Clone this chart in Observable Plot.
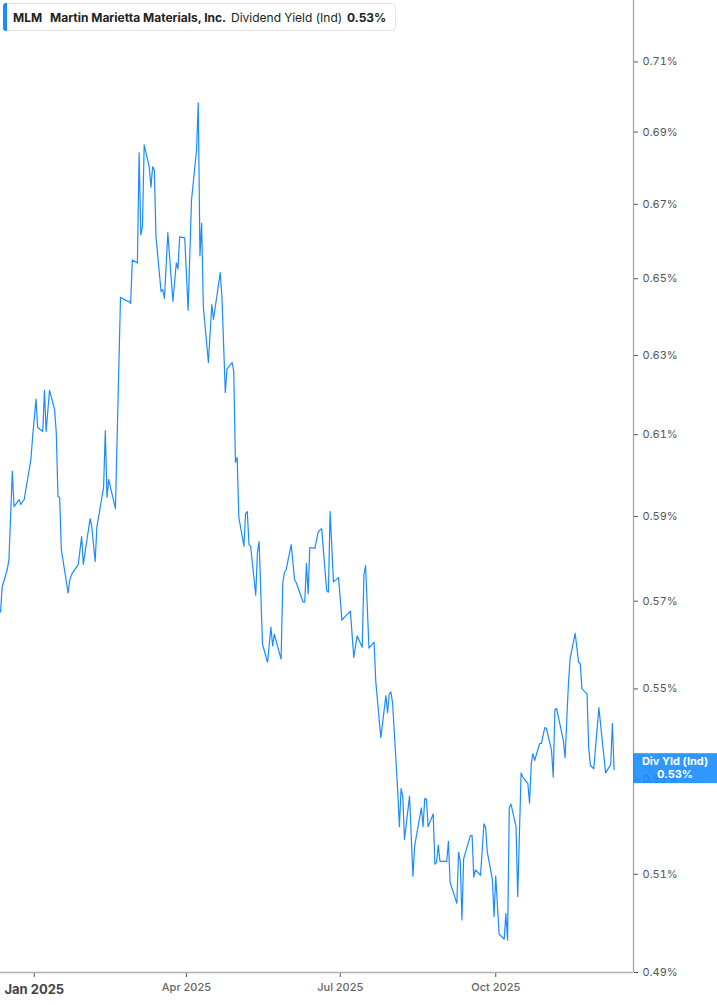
<!DOCTYPE html>
<html><head><meta charset="utf-8">
<script src="https://cdn.jsdelivr.net/npm/d3@7"></script>
<script src="https://cdn.jsdelivr.net/npm/@observablehq/plot@0.6"></script>
<style>
html,body{margin:0;padding:0;background:#fff;}
body{font-family:Inter,"Noto Sans",sans-serif;}
#wrap{position:relative;width:717px;height:1005px;overflow:hidden;}
#hdr{position:absolute;left:3px;top:3px;width:393px;height:28px;box-sizing:border-box;border:1px solid #e4e4e4;border-radius:4px;background:#fff;font-size:12px;color:#222;}
#hdr .bar{position:absolute;left:-1px;top:-1px;bottom:-1px;width:4px;background:#1a8cff;border-radius:3px 0 0 3px;}
#hdr span{position:absolute;top:6px;white-space:nowrap;}
#hdr .b{font-weight:700;}
</style>
</head><body>
<div id="wrap">
  <div id="chart"></div>
  <div id="hdr"><div class="bar"></div>
    <span class="b" style="left:9px">MLM</span>
    <span class="b" style="left:46px">Martin Marietta Materials, Inc.</span>
    <span style="left:227px">Dividend Yield (Ind)</span>
    <span class="b" style="left:343px">0.53%</span>
  </div>
</div>
<script>
const dates = [
"2024-12-12","2024-12-13","2024-12-16","2024-12-17","2024-12-19","2024-12-20","2024-12-23","2024-12-24","2024-12-26","2024-12-30",
"2024-12-31","2025-01-02","2025-01-03","2025-01-06","2025-01-07","2025-01-08","2025-01-10","2025-01-13","2025-01-14","2025-01-15",
"2025-01-16","2025-01-17","2025-01-21","2025-01-22","2025-01-23","2025-01-27","2025-01-29","2025-01-30","2025-02-03","2025-02-04",
"2025-02-06","2025-02-07","2025-02-11","2025-02-12","2025-02-13","2025-02-14","2025-02-18","2025-02-21","2025-02-24","2025-02-26",
"2025-02-27","2025-02-28","2025-03-03","2025-03-04","2025-03-05","2025-03-06","2025-03-07","2025-03-10","2025-03-11","2025-03-12",
"2025-03-13","2025-03-14","2025-03-17","2025-03-18","2025-03-19","2025-03-21","2025-03-24","2025-03-26","2025-03-27","2025-03-28",
"2025-03-31","2025-04-02","2025-04-04","2025-04-07","2025-04-08","2025-04-09","2025-04-10","2025-04-11","2025-04-14","2025-04-16",
"2025-04-17","2025-04-21","2025-04-22","2025-04-24","2025-04-25","2025-04-28","2025-04-29","2025-04-30","2025-05-01","2025-05-02",
"2025-05-05","2025-05-06","2025-05-07","2025-05-08","2025-05-09","2025-05-12","2025-05-13","2025-05-14","2025-05-16","2025-05-19",
"2025-05-21","2025-05-22","2025-05-23","2025-05-27","2025-05-28","2025-05-29","2025-05-30","2025-06-02","2025-06-04","2025-06-05",
"2025-06-09","2025-06-10","2025-06-11","2025-06-12","2025-06-13","2025-06-16","2025-06-18","2025-06-20","2025-06-23","2025-06-24",
"2025-06-25","2025-06-27","2025-06-30","2025-07-02","2025-07-03","2025-07-07","2025-07-09","2025-07-11","2025-07-14","2025-07-15",
"2025-07-16","2025-07-18","2025-07-21","2025-07-22","2025-07-25","2025-07-28","2025-07-29","2025-07-30","2025-07-31","2025-08-01",
"2025-08-04","2025-08-05","2025-08-06","2025-08-07","2025-08-08","2025-08-11","2025-08-13","2025-08-14","2025-08-18","2025-08-19",
"2025-08-20","2025-08-21","2025-08-22","2025-08-25","2025-08-26","2025-08-27","2025-08-28","2025-08-29","2025-09-02","2025-09-03",
"2025-09-04","2025-09-08","2025-09-09","2025-09-10","2025-09-11","2025-09-12","2025-09-16","2025-09-17","2025-09-18","2025-09-19",
"2025-09-22","2025-09-24","2025-09-25","2025-09-26","2025-09-29","2025-09-30","2025-10-01","2025-10-03","2025-10-06","2025-10-07",
"2025-10-08","2025-10-09","2025-10-10","2025-10-13","2025-10-14","2025-10-16","2025-10-17","2025-10-20","2025-10-21","2025-10-22",
"2025-10-23","2025-10-24","2025-10-27","2025-10-28","2025-10-30","2025-10-31","2025-11-03","2025-11-04","2025-11-05","2025-11-06",
"2025-11-10","2025-11-11","2025-11-13","2025-11-14","2025-11-17","2025-11-19","2025-11-20","2025-11-21","2025-11-24","2025-11-25",
"2025-11-26","2025-11-28","2025-12-01","2025-12-03","2025-12-05","2025-12-08","2025-12-09","2025-12-10"
];
const yields = [
0.5675,0.5733,0.5774,0.5798,0.6010,0.5924,0.5941,0.5929,0.5941,0.6039,
0.6095,0.6189,0.6118,0.6108,0.6211,0.6108,0.6211,0.6163,0.6105,0.5949,
0.5946,0.5821,0.5719,0.5750,0.5762,0.5786,0.5852,0.5786,0.5895,0.5876,
0.5793,0.5874,0.5971,0.6110,0.5946,0.5990,0.5919,0.6451,0.6443,0.6440,
0.6435,0.6550,0.6542,0.6842,0.6617,0.6639,0.6864,0.6803,0.6747,0.6803,
0.6794,0.6612,0.6466,0.6471,0.6448,0.6623,0.6440,0.6542,0.6526,0.6612,
0.6609,0.6417,0.6711,0.6850,0.6983,0.6561,0.6649,0.6427,0.6282,0.6432,
0.6393,0.6516,0.6453,0.6206,0.6265,0.6282,0.6260,0.6032,0.6044,0.5898,
0.5829,0.5907,0.5912,0.5833,0.5829,0.5714,0.5814,0.5840,0.5601,0.5560,
0.5640,0.5597,0.5624,0.5567,0.5743,0.5767,0.5774,0.5833,0.5750,0.5743,
0.5698,0.5698,0.5788,0.5717,0.5826,0.5824,0.5864,0.5871,0.5724,0.5721,
0.5912,0.5745,0.5755,0.5656,0.5661,0.5677,0.5571,0.5620,0.5594,0.5762,
0.5783,0.5592,0.5606,0.5518,0.5392,0.5485,0.5447,0.5489,0.5493,0.5467,
0.5277,0.5200,0.5281,0.5265,0.5173,0.5265,0.5096,0.5159,0.5240,0.5200,
0.5260,0.5258,0.5200,0.5227,0.5121,0.5125,0.5161,0.5127,0.5127,0.5169,
0.5083,0.5040,0.5146,0.5127,0.5006,0.5132,0.5181,0.5181,0.5094,0.5109,
0.5098,0.5206,0.5198,0.5146,0.5090,0.5013,0.5096,0.4977,0.4967,0.5019,
0.4965,0.5240,0.5248,0.5200,0.5054,0.5315,0.5306,0.5292,0.5250,0.5335,
0.5357,0.5342,0.5379,0.5379,0.5414,0.5412,0.5364,0.5306,0.5454,0.5456,
0.5386,0.5348,0.5511,0.5569,0.5626,0.5560,0.5557,0.5500,0.5489,0.5370,
0.5331,0.5324,0.5458,0.5386,0.5315,0.5333,0.5423,0.5322
];
const yTicks = [0.49,0.51,0.53,0.55,0.57,0.59,0.61,0.63,0.65,0.67,0.69,0.71];
const xTickDates = ["2025-01-01","2025-04-01","2025-07-01","2025-10-01"];
const xTickLabels = ["Jan 2025","Apr 2025","Jul 2025","Oct 2025"];
const xDomain = ["2024-12-12","2025-12-21T12:00Z"];
const yDomain = [0.49, 0.728];
const seriesLabel = "Div Yld (Ind)";

const data = dates.map((d, i) => ({date: new Date(d), value: yields[i]}));
const xTicks = xTickDates.map(d => new Date(d));
const labelRows = xTicks.map((d, i) => ({date: d, label: xTickLabels[i]}));
const lineColor = "#1a8cff";

const chart = Plot.plot({
  width: 717, height: 1005,
  marginLeft: 0, marginRight: 84, marginTop: 0, marginBottom: 33,
  style: {fontFamily: "Inter, 'Noto Sans', sans-serif", fontSize: "11px", color: "#555", background: "transparent", overflow: "visible"},
  x: {type: "utc", domain: xDomain.map(d => new Date(d)), ticks: xTicks, tickFormat: () => "", tickSize: 5, label: null},
  y: {type: "log", domain: yDomain, axis: "right", ticks: yTicks, tickFormat: d => d.toFixed(2) + "%", tickSize: 4, tickPadding: 5, label: null},
  marks: [
    Plot.ruleY([yDomain[0]], {stroke: "#b0b0b0", strokeWidth: 1.5}),
    Plot.ruleX([new Date(xDomain[1])], {stroke: "#a0a0a0", strokeWidth: 1.2}),
    Plot.lineY(data, {x: "date", y: "value", stroke: lineColor, strokeWidth: 1.2}),
    Plot.text(labelRows.slice(0, 1), {x: "date", text: "label", frameAnchor: "bottom", lineAnchor: "top", dy: 12, fontSize: 13, fontWeight: "bold", fill: "#444"}),
    Plot.text(labelRows.slice(1), {x: "date", text: "label", frameAnchor: "bottom", lineAnchor: "top", dy: 11, fontSize: 11, fontWeight: 500, fill: "#666"})
  ]
});
document.getElementById("chart").appendChild(chart);

// last-value label box on the right axis (semi-transparent, the axis label shows through as in the reference)
const ys = chart.scale("y");
const last = yields[yields.length - 1];
const yPos = ys.apply(last);
const svg = d3.select(chart);
const g = svg.append("g");
const bx = 633, bw = 84, bh = 30;
g.append("rect").attr("x", bx).attr("y", yPos - bh / 2 - 1).attr("width", bw).attr("height", bh).attr("fill", lineColor).attr("fill-opacity", 0.9);
g.append("text").attr("x", bx + bw / 2).attr("y", yPos - 4).attr("text-anchor", "middle")
  .attr("fill", "#fff").attr("font-weight", "bold").attr("font-size", 11).text(seriesLabel);
g.append("text").attr("x", bx + bw / 2).attr("y", yPos + 9).attr("text-anchor", "middle")
  .attr("fill", "#fff").attr("font-weight", "bold").attr("font-size", 11).text(last.toFixed(2) + "%");
</script>
</body></html>
